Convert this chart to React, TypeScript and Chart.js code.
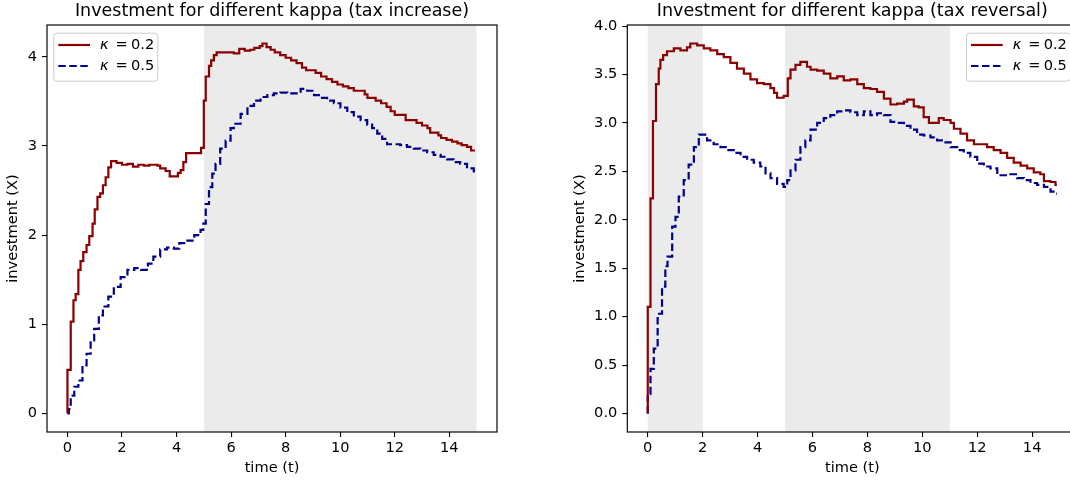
import React, { useEffect, useRef } from "react";
import { Chart, registerables } from "chart.js";
Chart.register(...registerables);

// ---------- data ----------
const kappaLabels = ["0.2", "0.5"];
const seriesColors = ["#8b0000", "#00008b"];

// Tax increase panel
const incTimesK02 = [0, 0, 0.12, 0.22, 0.3, 0.4, 0.48, 0.58, 0.7, 0.8, 0.92, 1.0, 1.1, 1.2, 1.3, 1.4, 1.5, 1.6, 1.8, 2.0, 2.2, 2.4, 2.6, 2.8, 3.0, 3.3, 3.4, 3.6, 3.75, 4.05, 4.15, 4.25, 4.35, 4.9, 5.0, 5.07, 5.19, 5.27, 5.37, 5.47, 6.1, 6.3, 6.5, 6.7, 6.85, 7.05, 7.15, 7.3, 7.45, 7.6, 7.8, 8.0, 8.2, 8.4, 8.6, 8.75, 9.1, 9.3, 9.5, 9.7, 9.9, 10.1, 10.3, 10.5, 10.9, 11.0, 11.3, 11.5, 11.7, 11.85, 12.0, 12.4, 12.8, 13.0, 13.2, 13.3, 13.6, 13.7, 13.9, 14.1, 14.3, 14.45, 14.65, 14.8, 14.9];
const incValsK02 = [0, 0.49, 1.03, 1.27, 1.34, 1.61, 1.71, 1.81, 1.89, 1.99, 2.13, 2.29, 2.43, 2.47, 2.56, 2.65, 2.76, 2.83, 2.81, 2.79, 2.8, 2.77, 2.79, 2.78, 2.79, 2.78, 2.75, 2.72, 2.66, 2.7, 2.73, 2.82, 2.92, 2.98, 3.51, 3.78, 3.9, 3.96, 4.02, 4.05, 4.04, 4.09, 4.07, 4.08, 4.1, 4.12, 4.15, 4.11, 4.08, 4.05, 4.02, 3.99, 3.96, 3.93, 3.88, 3.85, 3.82, 3.78, 3.75, 3.72, 3.69, 3.67, 3.65, 3.62, 3.58, 3.54, 3.51, 3.48, 3.44, 3.39, 3.35, 3.29, 3.26, 3.23, 3.2, 3.15, 3.12, 3.09, 3.07, 3.05, 3.03, 3.01, 2.99, 2.95, 2.94];
const incTimesK05 = [0, 0.05, 0.12, 0.25, 0.4, 0.55, 0.7, 0.85, 0.98, 1.15, 1.3, 1.5, 1.7, 1.95, 2.2, 2.45, 2.7, 2.95, 3.15, 3.4, 3.65, 3.9, 4.1, 4.4, 4.65, 4.88, 4.98, 5.07, 5.19, 5.31, 5.43, 5.6, 5.8, 5.98, 6.1, 6.35, 6.6, 6.84, 7.08, 7.33, 7.57, 7.8, 8.06, 8.3, 8.55, 8.79, 9.04, 9.28, 9.52, 9.77, 10.01, 10.26, 10.5, 10.75, 10.99, 11.17, 11.36, 11.54, 11.72, 12.2, 12.45, 12.7, 12.94, 13.19, 13.43, 13.68, 13.92, 14.16, 14.4, 14.65, 14.9];
const incValsK05 = [0, 0.05, 0.2, 0.3, 0.37, 0.54, 0.67, 0.82, 0.95, 1.1, 1.2, 1.31, 1.42, 1.53, 1.61, 1.63, 1.61, 1.68, 1.76, 1.84, 1.86, 1.85, 1.91, 1.94, 2.0, 2.06, 2.13, 2.35, 2.54, 2.69, 2.8, 2.97, 3.06, 3.2, 3.25, 3.36, 3.45, 3.51, 3.55, 3.57, 3.59, 3.6, 3.59, 3.59, 3.64, 3.62, 3.57, 3.54, 3.51, 3.48, 3.43, 3.38, 3.33, 3.29, 3.24, 3.2, 3.14, 3.08, 3.02, 3.01, 2.99, 2.97, 2.95, 2.93, 2.9, 2.88, 2.85, 2.82, 2.8, 2.75, 2.69];

// Tax reversal panel
const revTimesK02 = [0, 0, 0.1, 0.19, 0.3, 0.4, 0.46, 0.56, 0.7, 0.95, 1.19, 1.43, 1.55, 1.8, 2.04, 2.28, 2.53, 2.77, 3.01, 3.25, 3.5, 3.74, 3.98, 4.23, 4.47, 4.6, 4.71, 4.95, 5.1, 5.2, 5.38, 5.56, 5.8, 5.93, 6.17, 6.41, 6.65, 6.9, 7.14, 7.38, 7.63, 7.87, 8.11, 8.35, 8.6, 8.84, 9.08, 9.33, 9.45, 9.69, 9.87, 10.05, 10.24, 10.42, 10.6, 10.78, 11.03, 11.15, 11.39, 11.63, 11.88, 12.36, 12.6, 12.85, 13.09, 13.33, 13.58, 13.82, 14.06, 14.3, 14.43, 14.67, 14.85, 14.9];
const revValsK02 = [0, 1.1, 2.22, 3.02, 3.4, 3.56, 3.65, 3.7, 3.74, 3.77, 3.75, 3.78, 3.82, 3.8, 3.77, 3.75, 3.71, 3.68, 3.62, 3.56, 3.51, 3.45, 3.41, 3.4, 3.36, 3.31, 3.26, 3.28, 3.46, 3.55, 3.6, 3.63, 3.58, 3.55, 3.54, 3.51, 3.46, 3.48, 3.44, 3.45, 3.4, 3.36, 3.35, 3.32, 3.25, 3.19, 3.2, 3.22, 3.24, 3.17, 3.16, 3.06, 3.0, 3.0, 3.05, 3.03, 3.0, 2.94, 2.89, 2.82, 2.78, 2.75, 2.72, 2.69, 2.64, 2.59, 2.56, 2.53, 2.49, 2.47, 2.4, 2.39, 2.36, 2.36];
const revTimesK05 = [0, 0, 0.1, 0.22, 0.36, 0.52, 0.64, 0.72, 0.89, 1.01, 1.13, 1.31, 1.49, 1.68, 1.86, 2.16, 2.4, 2.65, 2.89, 3.13, 3.38, 3.62, 3.86, 4.1, 4.29, 4.47, 4.71, 4.95, 5.08, 5.2, 5.38, 5.56, 5.74, 5.93, 6.17, 6.41, 6.65, 6.9, 7.14, 7.38, 7.63, 7.87, 8.11, 8.35, 8.6, 8.84, 9.08, 9.33, 9.57, 9.81, 10.05, 10.3, 10.54, 10.78, 11.03, 11.27, 11.51, 11.75, 12.0, 12.24, 12.48, 12.73, 13.21, 13.45, 13.7, 13.94, 14.18, 14.43, 14.67, 14.85, 14.9];
const revValsK05 = [0, 0.2, 0.46, 0.67, 1.03, 1.31, 1.52, 1.62, 1.93, 2.03, 2.24, 2.41, 2.57, 2.75, 2.88, 2.82, 2.78, 2.75, 2.72, 2.69, 2.65, 2.62, 2.59, 2.55, 2.48, 2.43, 2.37, 2.34, 2.41, 2.51, 2.62, 2.75, 2.82, 2.93, 3.0, 3.05, 3.08, 3.12, 3.13, 3.11, 3.08, 3.12, 3.08, 3.1, 3.08, 3.01, 3.0, 2.97, 2.93, 2.88, 2.87, 2.85, 2.82, 2.8, 2.75, 2.72, 2.69, 2.65, 2.58, 2.55, 2.53, 2.46, 2.47, 2.43, 2.41, 2.38, 2.36, 2.34, 2.29, 2.27, 2.27];

const xTicks = [0, 2, 4, 6, 8, 10, 12, 14];
const yTicksInc = [0, 1, 2, 3, 4];
const yTicksRev = [0, 0.5, 1, 1.5, 2, 2.5, 3, 3.5, 4];
const spansInc = [[5, 15]];
const spansRev = [[0, 2], [5, 11]];
const titleInc = "Investment for different kappa (tax increase)";
const titleRev = "Investment for different kappa (tax reversal)";
const xLabel = "time (t)";
const yLabel = "investment (X)";

// ---------- styling ----------
const FONT = "'DejaVu Sans', sans-serif";
const FS = 14.6;
const TITLE_FS = 17.5;
const W = 535;
const H = 483;

type Panel = {
  left: number;
  yAxisWidth: number;
  padRight: number;
  yTitlePad: number;
  title: string;
  series: { t: number[]; v: number[] }[];
  spans: number[][];
  xMin: number;
  xMax: number;
  yMin: number;
  yMax: number;
  yTicks: number[];
  fmt: (v: number) => string;
  legendRight: boolean;
};

const panels: Panel[] = [
  {
    left: 0,
    yAxisWidth: 47,
    padRight: 38,
    yTitlePad: 4.5,
    title: titleInc,
    series: [
      { t: incTimesK02, v: incValsK02 },
      { t: incTimesK05, v: incValsK05 },
    ],
    spans: spansInc,
    xMin: -0.75,
    xMax: 15.75,
    yMin: -0.2075,
    yMax: 4.3575,
    yTicks: yTicksInc,
    fmt: (v) => String(v),
    legendRight: false,
  },
  {
    left: 570,
    yAxisWidth: 57.3,
    padRight: 27.7,
    yTitlePad: 1.25,
    title: titleRev,
    series: [
      { t: revTimesK02, v: revValsK02 },
      { t: revTimesK05, v: revValsK05 },
    ],
    spans: spansRev,
    xMin: -0.745,
    xMax: 15.645,
    yMin: -0.191,
    yMax: 4.011,
    yTicks: yTicksRev,
    fmt: (v) => v.toFixed(1),
    legendRight: true,
  },
];

function makeChart(canvas: HTMLCanvasElement, p: Panel) {
  const dashes = [[], [7.5, 3.5]];
  const datasets = p.series.map((s, i) => ({
    label: "κ = " + kappaLabels[i],
    data: s.t.map((t, j) => ({ x: t, y: s.v[j] })),
    borderColor: seriesColors[i],
    backgroundColor: seriesColors[i],
    borderWidth: 2.2,
    borderDash: dashes[i],
    borderCapStyle: "butt" as const,
    borderJoinStyle: "miter" as const,
    pointRadius: 0,
    stepped: true,
    fill: false,
    tension: 0,
  }));

  const decor = {
    id: "decor",
    beforeDatasetsDraw(chart: any) {
      const { ctx, chartArea: a, scales } = chart;
      ctx.save();
      ctx.fillStyle = "#ebebeb";
      for (const [s, e] of p.spans) {
        const x1 = scales.x.getPixelForValue(s);
        const x2 = scales.x.getPixelForValue(e);
        ctx.fillRect(x1, a.top, x2 - x1, a.bottom - a.top);
      }
      ctx.restore();
    },
    afterDraw(chart: any) {
      const { ctx, chartArea: a } = chart;
      ctx.save();
      // frame
      ctx.strokeStyle = "#000";
      ctx.lineWidth = 1.17;
      ctx.strokeRect(a.left, a.top, a.right - a.left, a.bottom - a.top);
      // title
      ctx.fillStyle = "#000";
      ctx.font = `${TITLE_FS}px ${FONT}`;
      ctx.textAlign = "center";
      ctx.textBaseline = "alphabetic";
      ctx.fillText(p.title, (a.left + a.right) / 2, 15.8);
      // legend
      const bw = 104;
      const bh = 48;
      const bx = p.legendRight ? a.right - 7.3 - bw : a.left + 6.3;
      const by = a.top + 7.7;
      ctx.beginPath();
      (ctx as any).roundRect(bx + 0.5, by + 0.5, bw, bh, 3);
      ctx.fillStyle = "rgba(255,255,255,0.8)";
      ctx.fill();
      ctx.strokeStyle = "#cccccc";
      ctx.lineWidth = 1;
      ctx.stroke();
      p.series.forEach((_, i) => {
        const yy = by + 12.3 + i * 21;
        ctx.beginPath();
        ctx.setLineDash(dashes[i]);
        ctx.strokeStyle = seriesColors[i];
        ctx.lineWidth = 2.2;
        ctx.moveTo(bx + 5, yy);
        ctx.lineTo(bx + 36.7, yy);
        ctx.stroke();
        ctx.setLineDash([]);
        ctx.fillStyle = "#000";
        ctx.textAlign = "left";
        ctx.textBaseline = "middle";
        const tx = bx + 46.7;
        ctx.font = `italic ${FS}px ${FONT}`;
        ctx.fillText("κ", tx, yy);
        ctx.font = `${FS}px ${FONT}`;
        ctx.fillText("=", tx + 15.5, yy);
        ctx.fillText(kappaLabels[i], tx + 31, yy);
      });
      ctx.restore();
    },
  };

  const tickFont = { family: FONT, size: FS };
  return new Chart(canvas, {
    type: "line",
    data: { datasets },
    options: {
      animation: false,
      responsive: false,
      devicePixelRatio: 1,
      layout: { padding: { left: 0, top: 25, right: p.padRight, bottom: 0 } },
      plugins: { legend: { display: false }, title: { display: false }, tooltip: { enabled: false } },
      events: [],
      scales: {
        x: {
          type: "linear",
          min: p.xMin,
          max: p.xMax,
          afterBuildTicks: (s: any) => {
            s.ticks = xTicks.map((v) => ({ value: v }));
          },
          afterFit: (s: any) => {
            s.height = 51;
          },
          ticks: { font: tickFont, color: "#000", padding: 2.8, maxRotation: 0, autoSkip: false, callback: (v: any) => String(v) },
          grid: { display: true, drawOnChartArea: false, drawTicks: true, tickLength: 5, color: "#000", tickColor: "#000", lineWidth: 1.1 },
          border: { display: false },
          title: { display: true, text: xLabel, font: tickFont, color: "#000", padding: { top: 0, bottom: 6 } },
        },
        y: {
          type: "linear",
          min: p.yMin,
          max: p.yMax,
          afterBuildTicks: (s: any) => {
            s.ticks = p.yTicks.map((v) => ({ value: v }));
          },
          afterFit: (s: any) => {
            s.width = p.yAxisWidth;
          },
          ticks: { font: tickFont, color: "#000", padding: 5, autoSkip: false, callback: (v: any) => p.fmt(Number(v)) },
          grid: { display: true, drawOnChartArea: false, drawTicks: true, tickLength: 5, color: "#000", tickColor: "#000", lineWidth: 1.1 },
          border: { display: false },
          title: { display: true, text: yLabel, font: tickFont, color: "#000", padding: { top: p.yTitlePad, bottom: 0 } },
        },
      },
    },
    plugins: [decor],
  } as any);
}

function PanelCanvas({ p }: { p: Panel }) {
  const ref = useRef<HTMLCanvasElement>(null);
  useEffect(() => {
    if (!ref.current) return;
    const c = makeChart(ref.current, p);
    return () => c.destroy();
  }, [p]);
  return (
    <canvas
      ref={ref}
      width={W}
      height={H}
      style={{ position: "absolute", left: p.left, top: 0, width: W, height: H }}
    />
  );
}

export default function App() {
  return (
    <div
      style={{
        position: "fixed",
        left: 0,
        top: 0,
        width: 1070,
        height: 483,
        overflow: "hidden",
        background: "#fff",
      }}
    >
      {panels.map((p, i) => (
        <PanelCanvas key={i} p={p} />
      ))}
    </div>
  );
}
